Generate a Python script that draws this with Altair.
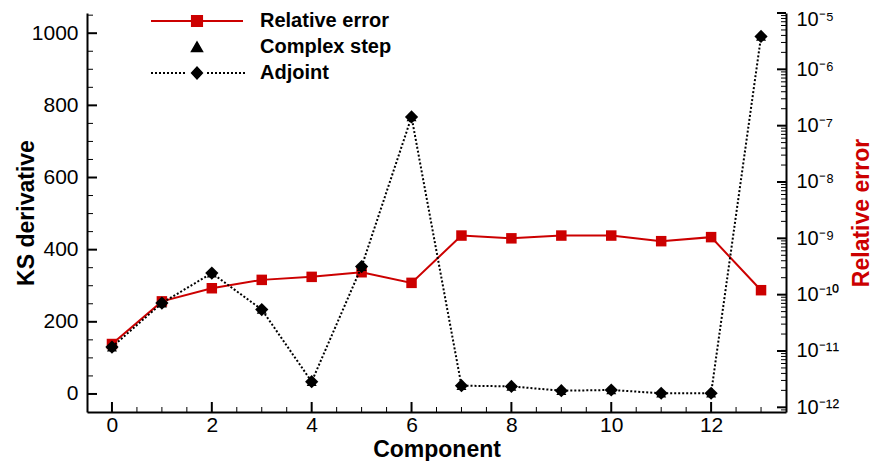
import altair as alt
import pandas as pd

# ---------------- data ----------------
components = list(range(14))
ks_adjoint = [130, 252, 335, 234, 34, 353, 768, 23, 21, 9, 11, 2, 2, 991]
ks_complex_step = [130, 252, 335, 234, 34, 353, 768, 23, 21, 9, 11, 2, 2, 991]
relative_error = [1.33e-11, 7.6e-11, 1.30e-10, 1.83e-10, 2.07e-10, 2.5e-10, 1.62e-10,
                  1.12e-9, 1.0e-9, 1.12e-9, 1.12e-9, 8.9e-10, 1.05e-9, 1.2e-10]

series_names = ["Relative error", "Complex step", "Adjoint"]

x_major = [0, 2, 4, 6, 8, 10, 12]
x_minor = [v / 2 for v in range(1, 27) if v % 4 != 0]
ks_major = [0, 200, 400, 600, 800, 1000]
ks_minor = [v for v in range(50, 1051, 50) if v % 200 != 0]
rel_major = [1e-12, 1e-11, 1e-10, 1e-9, 1e-8, 1e-7, 1e-6, 1e-5]
rel_labels = ["10⁻¹²", "10⁻¹¹", "10⁻¹⁰", "10⁻⁹", "10⁻⁸", "10⁻⁷", "10⁻⁶", "10⁻⁵"]
rel_minor = [m * 10.0 ** e for e in range(-13, -5) for m in range(2, 10)
             if 8.3e-13 < m * 10.0 ** e < 1e-5]

X_DOM = [-0.5, 13.5]
KS_DOM = [-50, 1056]
REL_DOM = [8.26e-13, 1e-5]

W, H = 699, 399
RED = "#cc0000"
TICK = "black"
FONT = "Liberation Sans"

df = pd.DataFrame({
    "component": components,
    "ks_adjoint": ks_adjoint,
    "ks_complex": ks_complex_step,
    "rel_error": relative_error,
})
legend_df = pd.DataFrame({"series": series_names})

base = alt.Chart(df)

X_SCALE = alt.Scale(domain=X_DOM, nice=False, zero=False)
KS_SCALE = alt.Scale(domain=KS_DOM, nice=False, zero=False)
REL_SCALE = alt.Scale(type="log", domain=REL_DOM, nice=False)


def xs(axis=None, field="component"):
    return alt.X(f"{field}:Q", scale=X_SCALE, axis=axis)


def yks(axis=None, field="ks_adjoint"):
    return alt.Y(f"{field}:Q", scale=KS_SCALE, axis=axis)


def yrel(axis=None, field="rel_error"):
    return alt.Y(f"{field}:Q", scale=REL_SCALE, axis=axis)


label_style = dict(labelFont=FONT, labelColor="black")
title_style = dict(titleFont=FONT, titleFontSize=23, titleFontWeight="bold")
common = dict(ticks=False, grid=False, domain=True, domainColor="black", domainWidth=2,
              zindex=1)

# ---- axis layers: domain lines, labels and titles ----
ax_left_bottom = base.mark_point(opacity=0).encode(
    x=xs(alt.Axis(orient="bottom", values=x_major, format="d", labelFontSize=21,
                  labelPadding=2, title="Component", titleColor="black", titlePadding=3,
                  **common, **label_style, **title_style)),
    y=yks(alt.Axis(orient="left", values=ks_major, format="d", labelFontSize=21,
                   labelPadding=9, title="KS derivative", titleColor="black",
                   titlePadding=-7, **common, **label_style, **title_style)),
)

label_expr = " : ".join(
    f"datum.value < {v * 3.16:.3e} ? '{lab}'" for v, lab in zip(rel_major[:-1], rel_labels[:-1])
) + f" : '{rel_labels[-1]}'"

ax_right = base.mark_point(opacity=0).encode(
    x=xs(None),
    y=yrel(alt.Axis(orient="right", values=rel_major, labelExpr=label_expr,
                    labelFontSize=20, labelPadding=10,
                    labelOffset={"condition": {"test": "datum.value > 5e-6", "value": 6},
                                 "value": 0},
                    title="Relative error", titleColor=RED, titleAngle=270,
                    titleBaseline="top", titlePadding=12,
                    **common, **label_style, **title_style)),
)


# ---- inward tick marks, drawn from the tick value lists ----
def x_ticks(values, length, width):
    return alt.Chart(pd.DataFrame({"v": values})).mark_rule(
        color=TICK, strokeWidth=width, opacity=1).encode(
        x=xs(None, "v"), y=alt.value(H), y2=alt.value(H - length))


def left_ticks(values, length, width):
    return alt.Chart(pd.DataFrame({"v": values})).mark_rule(
        color=TICK, strokeWidth=width, opacity=1).encode(
        y=yks(None, "v"), x=alt.value(0), x2=alt.value(length))


def right_ticks(values, length, width):
    return alt.Chart(pd.DataFrame({"v": values})).mark_rule(
        color=TICK, strokeWidth=width, opacity=1).encode(
        y=yrel(None, "v"), x=alt.value(W), x2=alt.value(W - length))


tick_layers = [
    x_ticks(x_major, 10, 2), x_ticks(x_minor, 5, 1),
    left_ticks(ks_major, 10, 2), left_ticks(ks_minor, 6, 1),
    right_ticks(rel_major, 9, 2), right_ticks(rel_minor, 5, 1),
]

# ---- data layers ----
rel_line = base.mark_line(color=RED, strokeWidth=2).encode(x=xs(), y=yrel())
rel_pts = base.mark_point(shape="square", filled=True, color=RED, size=110,
                          opacity=1).encode(x=xs(), y=yrel())
cs_pts = base.mark_point(shape="triangle-up", filled=True, color="black", size=100,
                         opacity=1).encode(x=xs(), y=yks(field="ks_complex"))
adj_line = base.mark_line(color="black", strokeWidth=2, strokeDash=[2, 2]).encode(
    x=xs(), y=yks())
adj_pts = base.mark_point(shape="diamond", filled=True, color="black", size=175,
                          opacity=1).encode(x=xs(), y=yks())

# ---- legend (native legend with composite symbols) ----
U = 46.0
dots = []
p = -1.0
while p < 1.0:
    if abs(p + 1.0 / U) > 0.2:
        dots.append(f"M{p:.4f},-{1 / U:.4f}h{2 / U:.4f}v{2 / U:.4f}h-{2 / U:.4f}Z")
    p += 4 / U
adjoint_path = "".join(dots) + "M0,-0.15L0.14,0L0,0.15L-0.14,0Z"
sym_paths = [
    "M-1,0H1M-0.11,-0.11H0.11V0.11H-0.11Z",
    "M0,-0.1L0.11,0.09L-0.11,0.09Z",
    adjoint_path,
]
fill_colors = [RED, "black", "black"]
stroke_colors = [RED, "black", "transparent"]

leg = alt.Legend(title=None, orient="none", legendX=63, legendY=-2, padding=0,
                 symbolSize=8464, symbolStrokeWidth=2, symbolOpacity=1, labelFont=FONT,
                 labelFontSize=20, labelFontWeight="bold", labelColor="black",
                 labelOffset=16, rowPadding=6, clipHeight=20, direction="vertical")

legend_layer = alt.Chart(legend_df).mark_point(size=8464, strokeWidth=2, opacity=1).encode(
    shape=alt.Shape("series:N", scale=alt.Scale(domain=series_names, range=sym_paths),
                    legend=leg),
    fill=alt.Fill("series:N", scale=alt.Scale(domain=series_names, range=fill_colors),
                  legend=leg),
    stroke=alt.Stroke("series:N", scale=alt.Scale(domain=series_names, range=stroke_colors),
                      legend=leg),
).transform_filter("false")

chart = alt.layer(
    ax_left_bottom, ax_right,
    rel_line, rel_pts, cs_pts, adj_line, adj_pts, legend_layer, *tick_layers,
).resolve_scale(
    x="independent", y="independent"
).properties(
    width=W, height=H,
    autosize=alt.AutoSizeParams(type="none"),
    padding={"left": 79, "top": 5, "right": 87, "bottom": 49},
    background="white",
).configure_view(stroke=None)

chart.save("out.html", embed_options={"renderer": "svg", "actions": False})
